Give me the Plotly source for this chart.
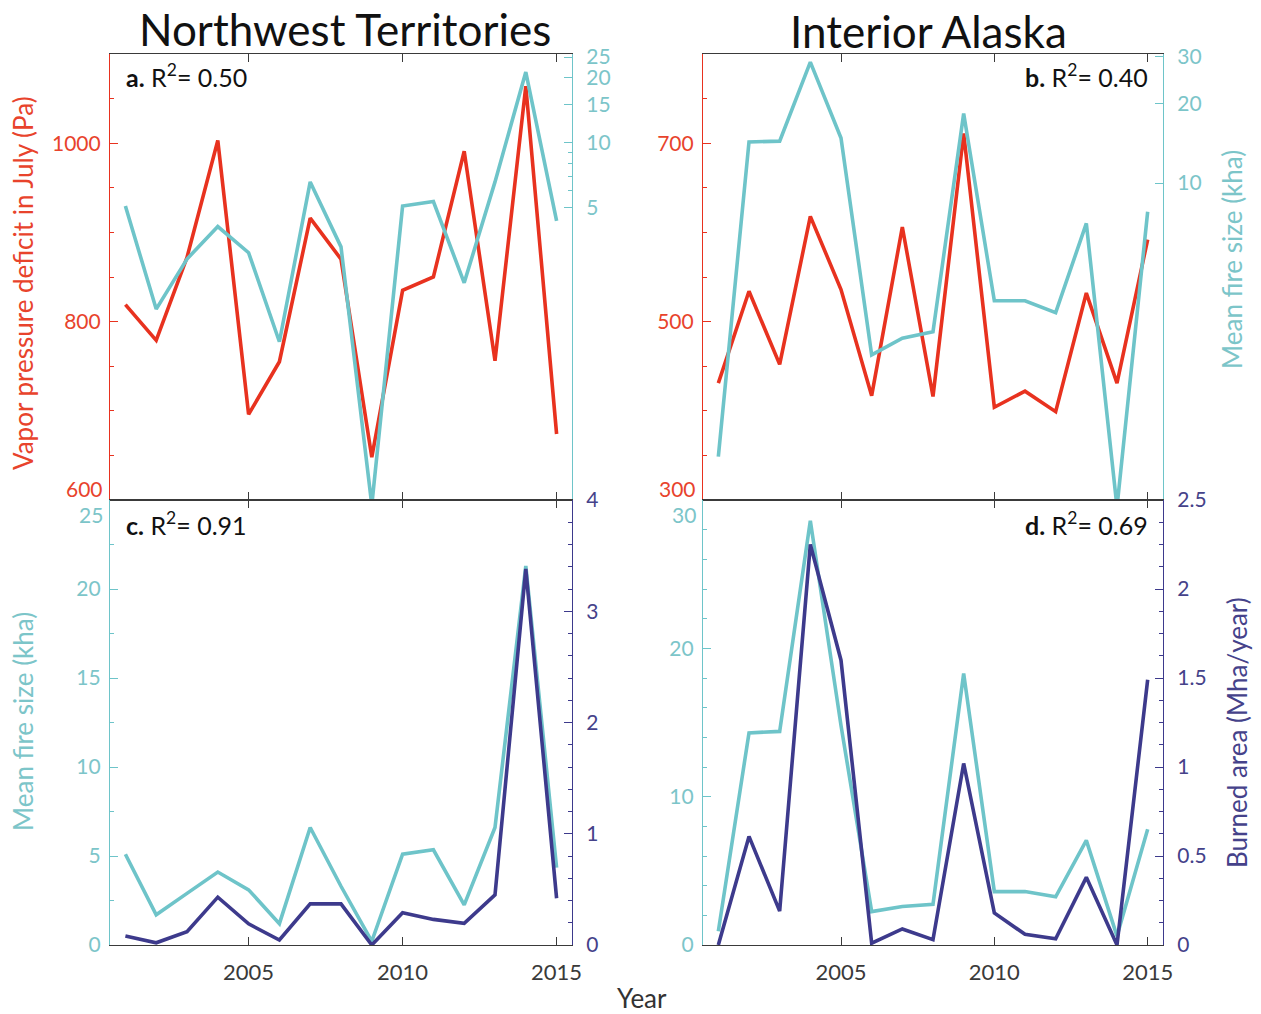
import plotly.graph_objects as go

# ---------------- data ----------------
years = list(range(2001, 2016))

# Northwest Territories
nwt_vpd = [819, 779, 872, 1003, 696, 755, 916, 870, 648, 835, 850, 991, 756, 1064, 674]
nwt_fire_size = [5.1, 1.7, 2.9, 4.1, 3.1, 1.2, 6.6, 3.3, 0.21, 5.1, 5.35, 2.25, 6.6, 21.3, 4.35]
nwt_burned = [0.08, 0.02, 0.12, 0.43, 0.19, 0.045, 0.37, 0.37, 0.0, 0.29, 0.23, 0.195, 0.45, 3.38, 0.42]

# Interior Alaska
ak_vpd = [431, 534, 452, 618, 536, 417, 606, 416, 711, 404, 422, 399, 532, 431, 592]
ak_fire_size = [0.93, 14.3, 14.4, 28.6, 14.8, 2.25, 2.6, 2.75, 18.3, 3.6, 3.6, 3.25, 7.05, 0.6, 7.8]
ak_burned = [0.0, 0.61, 0.19, 2.25, 1.6, 0.01, 0.09, 0.03, 1.02, 0.18, 0.06, 0.035, 0.38, 0.0, 1.49]

x_ticks = [2005, 2010, 2015]

# ---------------- styling ----------------
FW, FH = 1261, 1014
FONT = "Lato, sans-serif"
RED = "#E8321F"
RED_T = "#E8432C"
CYAN = "#6EC4C9"
CYAN_T = "#7CC5C9"
NAVY = "#3D3A8C"
NAVY_T = "#45428A"
AX = "#3a3a3a"
TS = 21  # tick font size


def px(x):
    return x / FW


def py(y):
    return 1 - y / FH


XA = [px(110), px(572)]
XB = [px(703), px(1163)]
YT = [py(500), py(54)]
YB = [py(945), py(500)]
XR = [2000.5, 2015.5]

fig = go.Figure()
LW = 3.6

# panel a
fig.add_trace(go.Scatter(x=years, y=nwt_vpd, mode="lines", line=dict(color=RED, width=LW), xaxis="x", yaxis="y"))
fig.add_trace(go.Scatter(x=years, y=nwt_fire_size, mode="lines", line=dict(color=CYAN, width=LW), xaxis="x", yaxis="y2"))
# panel b
fig.add_trace(go.Scatter(x=years, y=ak_vpd, mode="lines", line=dict(color=RED, width=LW), xaxis="x2", yaxis="y3"))
fig.add_trace(go.Scatter(x=years, y=ak_fire_size, mode="lines", line=dict(color=CYAN, width=LW), xaxis="x2", yaxis="y4"))
# panel c
fig.add_trace(go.Scatter(x=years, y=nwt_fire_size, mode="lines", line=dict(color=CYAN, width=LW), xaxis="x3", yaxis="y5"))
fig.add_trace(go.Scatter(x=years, y=nwt_burned, mode="lines", line=dict(color=NAVY, width=LW), xaxis="x3", yaxis="y6"))
# panel d
fig.add_trace(go.Scatter(x=years, y=ak_fire_size, mode="lines", line=dict(color=CYAN, width=LW), xaxis="x4", yaxis="y7"))
fig.add_trace(go.Scatter(x=years, y=ak_burned, mode="lines", line=dict(color=NAVY, width=LW), xaxis="x4", yaxis="y8"))


def xaxis(domain, anchor, labels):
    return dict(domain=domain, anchor=anchor, range=XR, tickvals=x_ticks, automargin=False,
                ticks="inside", ticklen=8, tickcolor=AX, showline=True, linecolor=AX,
                linewidth=1, mirror="ticks", showgrid=False, zeroline=False,
                showticklabels=labels, ticklabelstandoff=8,
                tickfont=dict(family=FONT, size=TS + 1, color="#3a3a3a"))


def yaxis(domain, anchor, rng, color, tcolor, side="left", overlaying=None,
          tickvals=None, ticktext=None, minor=None, log=False):
    d = dict(domain=domain, anchor=anchor, range=rng, side=side, showgrid=False,
             zeroline=False, showline=True, linecolor=color, linewidth=1.2, automargin=False,
             ticks="inside", ticklen=8, tickcolor=color,
             ticklabelstandoff=(4 if side == "left" else 9),
             tickfont=dict(family=FONT, size=TS, color=tcolor))
    if overlaying:
        d["overlaying"] = overlaying
    if tickvals is not None:
        d["tickvals"] = tickvals
    if ticktext is not None:
        d["ticktext"] = ticktext
    if minor is not None:
        d["minor"] = minor
    if log:
        d["type"] = "log"
    return d


def mn(color, **kw):
    m = dict(ticks="inside", ticklen=4, tickcolor=color, showgrid=False)
    m.update(kw)
    return m


fig.update_layout(
    width=FW, height=FH, margin=dict(l=0, r=0, t=0, b=0, autoexpand=False),
    paper_bgcolor="white", plot_bgcolor="white", showlegend=False,
    font=dict(family=FONT, color="#1a1a1a"),
    xaxis=xaxis(XA, "y", False),
    xaxis2=xaxis(XB, "y3", False),
    xaxis3=xaxis(XA, "y5", True),
    xaxis4=xaxis(XB, "y7", True),
    yaxis=yaxis(YT, "x", [600, 1100], RED, RED_T, tickvals=[600, 800, 1000],
                ticktext=["", "800", "1000"], minor=mn(RED, dtick=50, tick0=0)),
    yaxis2=yaxis(YT, "x", [-0.654, 1.412], CYAN, CYAN_T, side="right", overlaying="y",
                 tickvals=[5, 10, 15, 20, 25], log=True,
                 minor=mn(CYAN, tickvals=[6, 7, 8, 9])),
    yaxis3=yaxis(YT, "x2", [300, 800], RED, RED_T, tickvals=[300, 500, 700],
                 ticktext=["", "500", "700"], minor=mn(RED, dtick=50, tick0=0)),
    yaxis4=yaxis(YT, "x2", [-0.195, 1.487], CYAN, CYAN_T, side="right", overlaying="y3",
                 tickvals=[10, 20, 30], log=True),
    yaxis5=yaxis(YB, "x3", [0, 25], CYAN, CYAN_T, tickvals=[0, 5, 10, 15, 20, 25],
                 ticktext=["0", "5", "10", "15", "20", ""],
                 minor=mn(CYAN, dtick=2.5, tick0=0)),
    yaxis6=yaxis(YB, "x3", [0, 4], NAVY, NAVY_T, side="right", overlaying="y5",
                 tickvals=[0, 1, 2, 3, 4], minor=mn(NAVY, dtick=0.2, tick0=0)),
    yaxis7=yaxis(YB, "x4", [0, 30], CYAN, CYAN_T, tickvals=[0, 10, 20, 30],
                 ticktext=["0", "10", "20", ""], minor=mn(CYAN, dtick=2, tick0=0)),
    yaxis8=yaxis(YB, "x4", [0, 2.5], NAVY, NAVY_T, side="right", overlaying="y7",
                 tickvals=[0, 0.5, 1, 1.5, 2, 2.5], minor=mn(NAVY, dtick=0.125, tick0=0)),
)

anns = []


def ann(text, x, y, size, color="#111", xanchor="center", yanchor="middle", angle=0):
    anns.append(dict(text=text, x=px(x), y=py(y), xref="paper", yref="paper",
                     showarrow=False, xanchor=xanchor, yanchor=yanchor, textangle=angle,
                     font=dict(family=FONT, size=size, color=color)))


ann("Northwest Territories", 345, 29, 44)
ann("Interior Alaska", 928, 31, 44)
ann("<b>a.</b> R<sup>2</sup>= 0.50", 124, 76, 25, xanchor="left")
ann("<b>b.</b> R<sup>2</sup>= 0.40", 1150, 76, 25, xanchor="right")
ann("<b>c.</b> R<sup>2</sup>= 0.91", 124, 523, 25, xanchor="left")
ann("<b>d.</b> R<sup>2</sup>= 0.69", 1150, 523, 25, xanchor="right")
ann("Vapor pressure deficit in July (Pa)", 23, 283, 26, color=RED_T, angle=-90)
ann("Mean fire size (kha)", 23, 722, 26, color=CYAN_T, angle=-90)
ann("Mean fire size (kha)", 1232, 260, 26, color=CYAN_T, angle=-90)
ann("Burned area (Mha/year)", 1237, 733, 26, color=NAVY_T, angle=-90)
ann("Year", 642, 998, 26, color="#333")
# end-of-axis tick labels, nudged off the shared boundary as in the original
ann("600", 105, 488, TS, color=RED_T, xanchor="right")
ann("300", 698, 488, TS, color=RED_T, xanchor="right")
ann("25", 105, 514, TS, color=CYAN_T, xanchor="right")
ann("30", 698, 514, TS, color=CYAN_T, xanchor="right")

fig.update_layout(annotations=anns)
# remove the browser's default page margin so the figure fills the window exactly
fig.write_html("out.html", config={"displayModeBar": False},
               post_script="document.body.style.margin='0';")
